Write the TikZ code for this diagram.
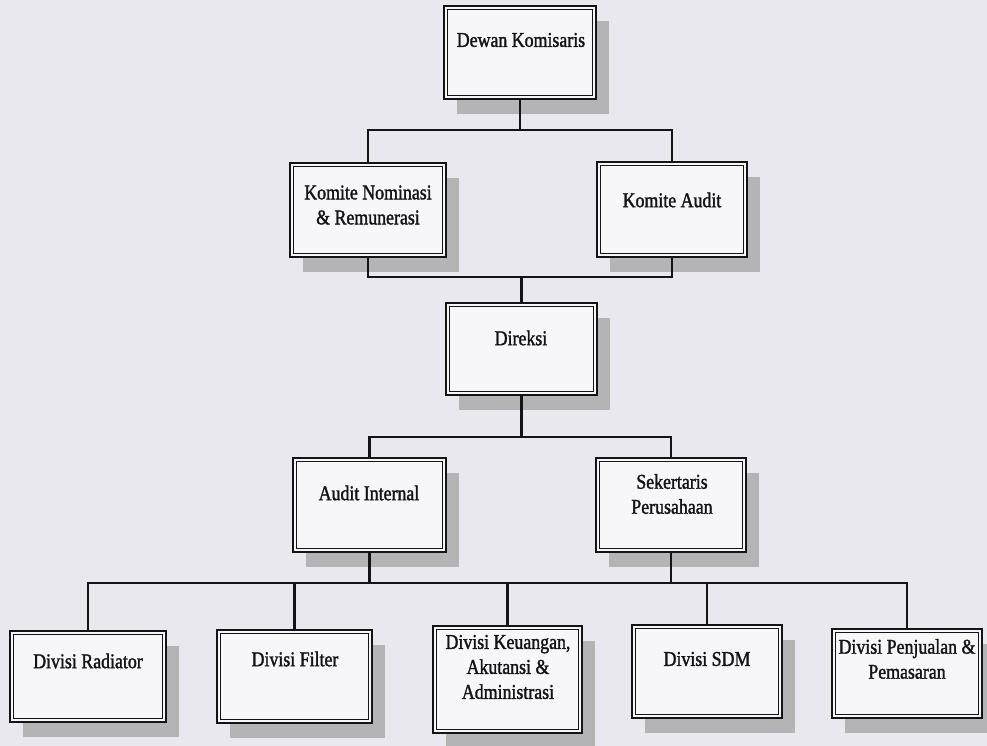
\documentclass[tikz,border=0pt]{standalone}
\usepackage{fontspec}
\setmainfont{Liberation Serif}[FakeStretch=0.85,FakeBold=1.5]
\usetikzlibrary{shadows}
\definecolor{bgc}{RGB}{233,232,238}
\definecolor{boxc}{RGB}{247,247,249}
\definecolor{shadc}{RGB}{180,180,183}
\definecolor{inkc}{RGB}{20,20,22}
\tikzset{
  orgbox/.style={draw=inkc, line width=2.6pt, fill=boxc, inner sep=0pt,
    drop shadow={shadow xshift=13pt, shadow yshift=-15pt, fill=shadc, opacity=1},
    path picture={\draw[inkc, line width=0.9pt]
      ([shift={(3.4pt,3.4pt)}]path picture bounding box.south west) rectangle
      ([shift={(-3.4pt,-3.4pt)}]path picture bounding box.north east);}},
  orgtext/.style={text=inkc, align=center, font=\fontsize{21}{25}\selectfont, inner sep=0pt},
  conn/.style={draw=inkc, line width=2.2pt}
}
\newcommand{\orgnode}[7]{% name, left, top, right, bottom, text centre, text
  \node[orgbox, minimum width={(#4-#2)*1pt}, minimum height={(#5-#3)*1pt}] (#1) at ({(#2+#4)/2},{(#3+#5)/2}) {};
  \node[orgtext] (#1-t) at (#6) {#7};
}
\begin{document}
\begin{tikzpicture}[x=1pt,y=-1pt]
\fill[bgc] (0,0) rectangle (987,746);
\clip (0,0) rectangle (987,746);
\useasboundingbox (0,0) rectangle (987,746);
\orgnode{dk}{444}{6}{596}{99}{521,40}{Dewan Komisaris}
\orgnode{kn}{290}{163}{446}{257}{368,205}{Komite Nominasi\\\& Remunerasi}
\orgnode{ka}{597}{162}{747}{257}{672,200}{Komite Audit}
\orgnode{dr}{446}{303}{597}{395}{521,338}{Direksi}
\orgnode{ai}{293}{458}{446}{552}{369,493}{Audit Internal}
\orgnode{sp}{596}{458}{746}{552}{672,494}{Sekertaris\\Perusahaan}
\orgnode{d1}{10}{631}{166}{722}{88,661}{Divisi Radiator}
\orgnode{d2}{217}{630}{372}{723}{295,659}{Divisi Filter}
\orgnode{d3}{433}{626}{582}{733}{508,667}{Divisi Keuangan,\\Akutansi \&\\Administrasi}
\orgnode{d4}{632}{625}{782}{718}{707,659}{Divisi SDM}
\orgnode{d5}{832}{629}{982}{718}{907,659}{Divisi Penjualan \&\\Pemasaran}
\coordinate (b1) at (0,130);
\coordinate (b2) at (0,277);
\coordinate (b3) at (0,437);
\coordinate (b4) at (0,583);
% level 1
\draw[conn] (dk.south) -- (dk.south |- b1);
\draw[conn] (kn.north) |- (ka.north |- b1) -- (ka.north);
% level 2
\draw[conn] (kn.south) |- (ka.south |- b2) -- (ka.south);
\draw[conn] (dr.north) -- (dr.north |- b2);
% level 3
\draw[conn] (dr.south) -- (dr.south |- b3);
\draw[conn] (ai.north) |- (sp.north |- b3) -- (sp.north);
% level 4
\draw[conn] (ai.south) -- (ai.south |- b4);
\draw[conn] (sp.south) -- (sp.south |- b4);
\draw[conn] (d1.north) |- (d5.north |- b4) -- (d5.north);
\draw[conn] (d2.north) -- (d2.north |- b4);
\draw[conn] (d3.north) -- (d3.north |- b4);
\draw[conn] (d4.north) -- (d4.north |- b4);
\end{tikzpicture}
\end{document}
